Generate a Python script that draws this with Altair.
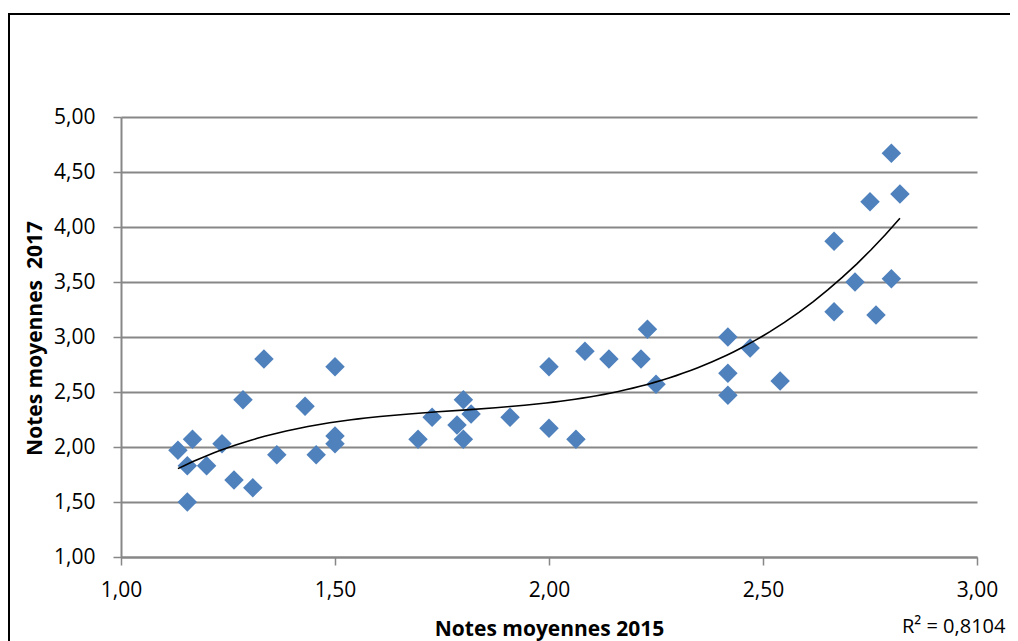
import altair as alt
import pandas as pd

x2015 = [1.133, 1.155, 1.155, 1.167, 1.20, 1.236, 1.264, 1.285, 1.308, 1.334, 1.364, 1.43, 1.456,
         1.50, 1.50, 1.50, 1.694, 1.727, 1.785, 1.80, 1.80, 1.818, 1.909, 2.00, 2.00, 2.063,
         2.084, 2.14, 2.215, 2.23, 2.25, 2.418, 2.418, 2.418, 2.47, 2.54, 2.666, 2.666, 2.715,
         2.75, 2.764, 2.80, 2.80, 2.82]
y2017 = [1.97, 1.83, 1.50, 2.07, 1.83, 2.03, 1.70, 2.43, 1.63, 2.80, 1.93, 2.37, 1.93,
         2.73, 2.10, 2.03, 2.07, 2.27, 2.20, 2.43, 2.07, 2.30, 2.27, 2.73, 2.17, 2.07,
         2.87, 2.80, 2.80, 3.07, 2.57, 3.00, 2.67, 2.47, 2.90, 2.60, 3.87, 3.23, 3.50,
         4.23, 3.20, 4.67, 3.53, 4.30]
x_ticks = [1.0, 1.5, 2.0, 2.5, 3.0]
y_ticks = [1.0, 1.5, 2.0, 2.5, 3.0, 3.5, 4.0, 4.5, 5.0]
x_title = "Notes moyennes 2015"
y_title = "Notes moyennes\u00a0\u00a02017"
r2_label = "R² = 0,8104"

df = pd.DataFrame({"x": x2015, "y": y2017})
FONT = "Open Sans"
GRID = "#878787"
label_expr = "replace(format(datum.value, '.2f'), '.', ',')"

x_enc = alt.X("x:Q", scale=alt.Scale(domain=[1, 3], nice=False, zero=False),
              axis=alt.Axis(values=x_ticks, labelExpr=label_expr, grid=False,
                            labelFlush=False, labelOverlap=False,
                            title=x_title, titleFontWeight="bold",
                            titleFontSize=21, titleFont=FONT, titleX=428, titleY=78,
                            titleBaseline="alphabetic", titleColor="black",
                            labelFont=FONT, labelFontSize=21, labelColor="black",
                            labelPadding=14, tickSize=8, tickColor=GRID, tickWidth=1.5,
                            domainColor=GRID, domainWidth=2))
y_enc = alt.Y("y:Q", scale=alt.Scale(domain=[1, 5], nice=False, zero=False),
              axis=alt.Axis(values=y_ticks, labelExpr=label_expr, grid=True,
                            labelFlush=False, labelOverlap=False,
                            gridColor=GRID, gridWidth=2,
                            title=y_title, titleFontWeight="bold",
                            titleFontSize=21, titleFont=FONT, titleX=-80, titleY=221,
                            titleBaseline="alphabetic", titleColor="black",
                            labelFont=FONT, labelFontSize=21, labelColor="black",
                            labelPadding=18, tickSize=8, tickColor=GRID, tickWidth=1.5,
                            domainColor=GRID, domainWidth=2))

points = alt.Chart(df).mark_point(shape="diamond", filled=True, size=380,
                                  color="#4F81BD", opacity=1).encode(x=x_enc, y=y_enc)

trend = alt.Chart(df).transform_regression("x", "y", method="poly", order=3).mark_line(
    color="black", strokeWidth=1.6).encode(x="x:Q", y="y:Q")

frame_df = pd.DataFrame({"k": [0]})
frame = alt.Chart(frame_df).mark_rect(filled=False, stroke="black", strokeWidth=2,
                                      clip=False).encode(
    x=alt.value(-112), x2=alt.value(960), y=alt.value(-103), y2=alt.value(600))

r2_df = pd.DataFrame({"t": [r2_label]})
r2 = alt.Chart(r2_df).mark_text(font=FONT, fontSize=20, color="black", align="left",
                                baseline="alphabetic").encode(
    text="t:N", x=alt.value(781), y=alt.value(516))

chart = alt.layer(frame, points, trend, r2).properties(
    width=856, height=440, autosize=alt.AutoSizeParams(type="none"),
    padding={"left": 113, "top": 109, "right": 33, "bottom": 84}
).configure_view(stroke=None)

chart.save("out.html", embed_options={"renderer": "svg", "actions": False})
